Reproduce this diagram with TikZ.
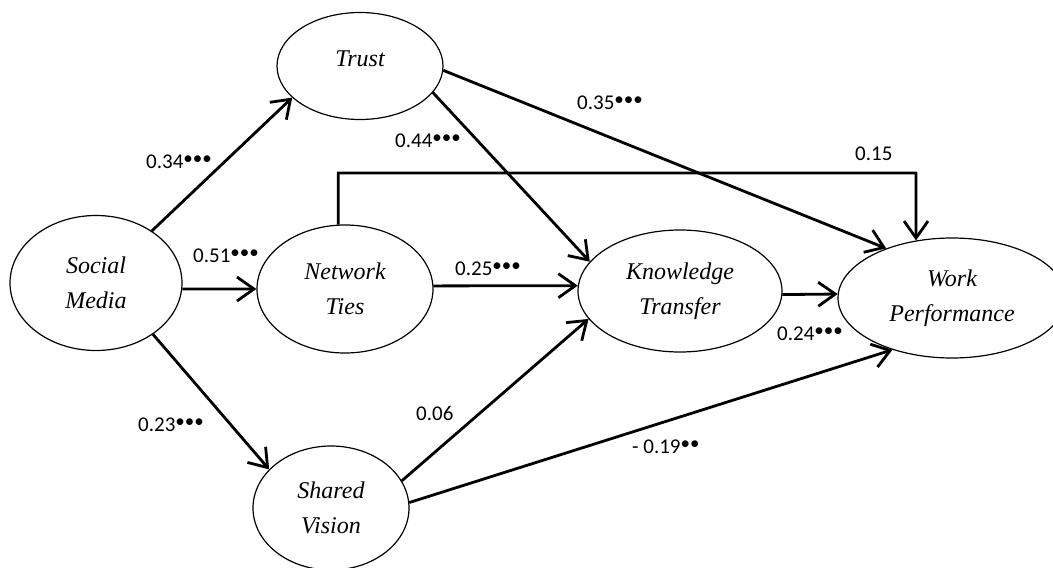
\documentclass[tikz,border=0pt]{standalone}
\usepackage{fontspec}
\setmainfont{Carlito}
\newfontfamily\varfont{Liberation Serif}
\usetikzlibrary{shapes.geometric,arrows.meta}

\newcommand{\sig}[1]{\raisebox{4pt}{\fontsize{19}{19}\selectfont #1}}

\begin{document}
\begin{tikzpicture}[x=1pt,y=-1pt,
	var/.style={ellipse, draw, line width=1.2pt, inner sep=0pt, align=center,
		font=\fontsize{24}{35}\selectfont\varfont\itshape},
	link/.style={line width=2.8pt, -{Straight Barb[length=17pt,width=24pt]}},
	coef/.style={anchor=base west, inner sep=0pt, font=\fontsize{21}{21}\selectfont}]
	\clip (0,0) rectangle (1053,568);

	% CONSTRUCTS
	\node[var, minimum width=172, minimum height=135] (sm) at (96,283) {Social\\Media};
	\node[var, minimum width=166, minimum height=107] (trust) at (360,66) {Trust\\[-20pt]};
	\node[var, minimum width=176, minimum height=128] (nt) at (345,289) {Network\\Ties};
	\node[var, minimum width=156, minimum height=124] (sv) at (331,508) {Shared\\Vision};
	\node[var, minimum width=204, minimum height=122] (kt) at (680,291) {Knowledge\\Transfer};
	\node[var, minimum width=228, minimum height=120] (wp) at (952,298) {Work\\Performance};

	% PATHS
	\draw[link] (sm.43) -- (trust.205);
	\draw[link] (sm.-4) -- (nt.west);
	\draw[link] (sm.-42) -- (sv.148);
	\draw[link] (trust.-20) -- (kt.162);
	\draw[link] (trust.-3) -- (wp.143);
	\draw[link] (nt.2) -- (kt.177);
	\draw[link] (sv.21) -- (kt.197);
	\draw[link] (sv.4) -- (wp.221);
	\draw[link] (kt.-2) -- (wp.178);
	\coordinate (elbow) at (916,173);
	\draw[link] (nt.96) |- (elbow) -- (wp.122);

	% COEFFICIENTS
	\node[coef] (c34) at (146,168) {0.34\sig{•••}};
	\node[coef] (c51) at (193,262) {0.51\sig{•••}};
	\node[coef] (c23) at (138,431) {0.23\sig{•••}};
	\node[coef] (c44) at (395,147) {0.44\sig{•••}};
	\node[coef] (c35) at (577,109) {0.35\sig{•••}};
	\node[coef] (c15) at (855,160) {0.15};
	\node[coef] (c25) at (455,275) {0.25\sig{•••}};
	\node[coef] (c06) at (416,420) {0.06};
	\node[coef] (c24) at (777,340) {0.24\sig{•••}};
	\node[coef] (c19) at (632,453) {- 0.19\sig{••}};
\end{tikzpicture}
\end{document}
